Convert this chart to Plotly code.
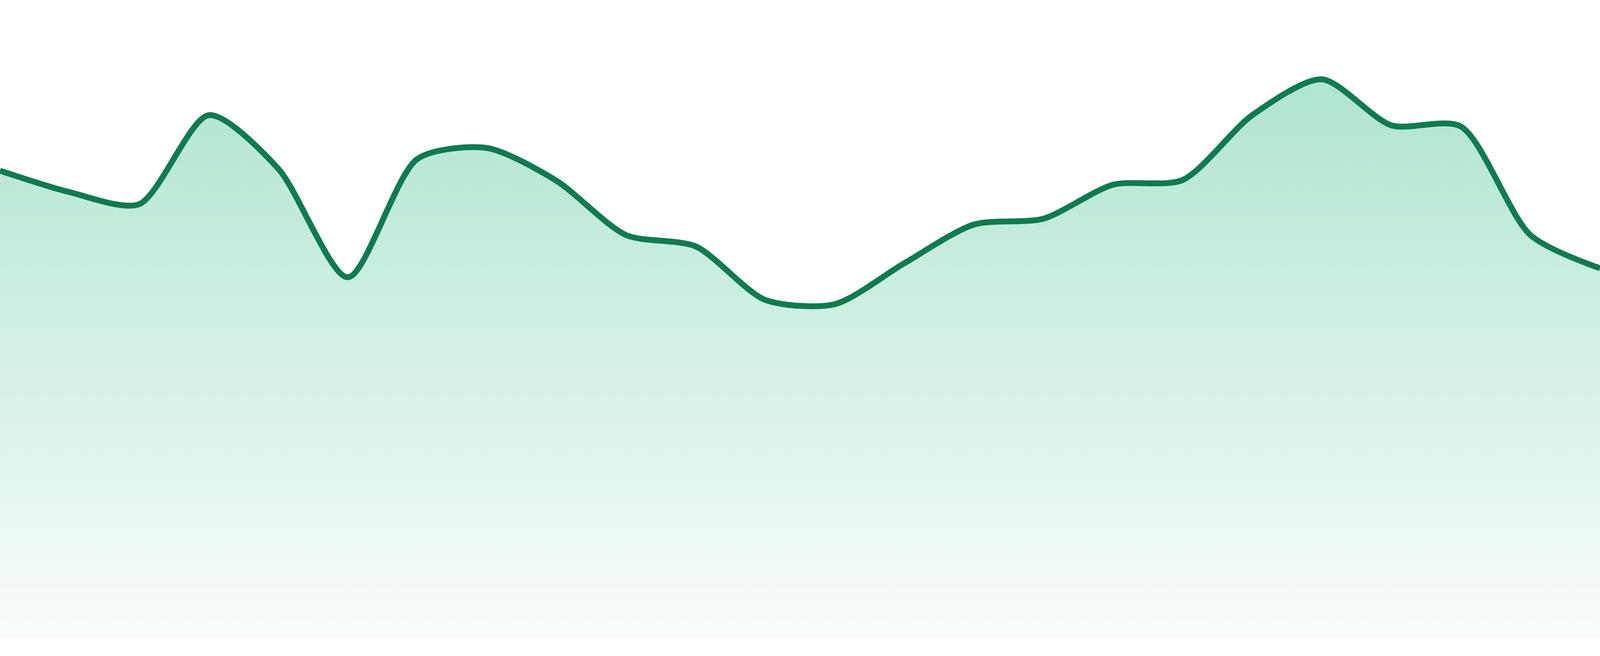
import plotly.graph_objects as go

# evenly spaced samples
steps = list(range(24))
values = [119.5, 114.0, 110.9, 133.7, 120.0, 92.2, 122.5, 125.3,
          116.9, 103.0, 100.1, 86.4, 85.3, 95.8, 105.7, 107.2,
          115.9, 117.1, 133.7, 142.9, 131.1, 130.8, 103.0, 94.5]

line_color = "rgb(16,122,80)"
fill_top = "rgb(176,229,207)"
fill_bottom = "rgb(249,252,251)"

fig = go.Figure()
fig.add_trace(go.Scatter(
    x=steps,
    y=values,
    mode="lines",
    line=dict(color=line_color, width=15, shape="spline", smoothing=0.75),
    fill="tozeroy",
    fillgradient=dict(
        type="vertical",
        start=0,
        stop=max(values),
        colorscale=[[0, fill_bottom], [1, fill_top]],
    ),
    hoverinfo="skip",
))

fig.update_layout(
    autosize=True,
    margin=dict(l=0, r=0, t=0, b=48),
    paper_bgcolor="white",
    plot_bgcolor="white",
    showlegend=False,
)
fig.update_xaxes(visible=False, range=[0, 23], fixedrange=True)
fig.update_yaxes(visible=False, range=[0, 163.2], fixedrange=True)

# full-bleed: drop the body margin and size the plot to the window
fit_js = """
document.documentElement.style.margin = '0';
document.body.style.margin = '0';
document.body.style.overflow = 'hidden';
var gd = document.getElementById('{plot_id}');
Plotly.relayout(gd, {width: window.innerWidth, height: window.innerHeight});
"""

fig.write_html("out.html", config={"displayModeBar": False},
               default_width="100vw", default_height="100vh",
               post_script=fit_js)
